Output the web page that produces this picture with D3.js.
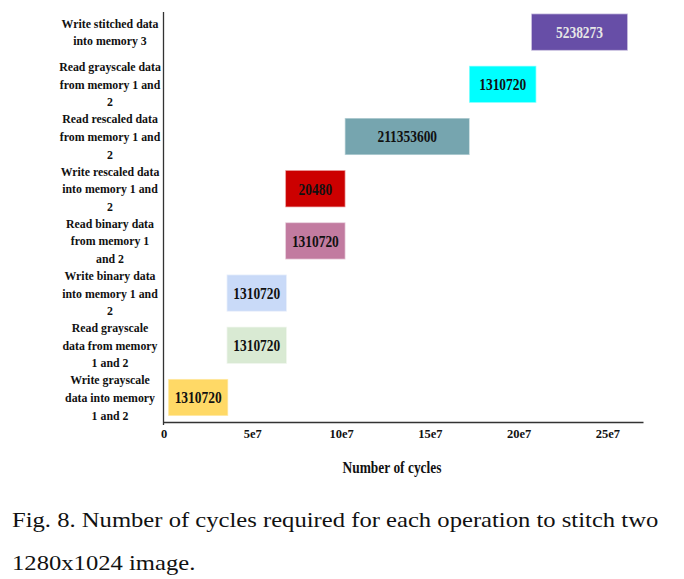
<!DOCTYPE html>
<html>
<head>
<meta charset="utf-8">
<script src="https://cdn.jsdelivr.net/npm/d3@7"></script>
<style>
  html, body { margin: 0; padding: 0; background: #fff; }
  svg { display: block; }
  text { font-family: "Liberation Serif", "Times New Roman", serif; }
</style>
</head>
<body>
<svg id="chart" width="684" height="579"></svg>
<script>
// ---- data (bottom row first) ----
const operations = [
  "Write grayscale|data into memory|1 and 2",
  "Read grayscale|data from memory|1 and 2",
  "Write binary data|into memory 1 and|2",
  "Read binary data|from memory 1|and 2",
  "Write rescaled data|into memory 1 and|2",
  "Read rescaled data|from memory 1 and|2",
  "Read grayscale data|from memory 1 and|2",
  "Write stitched data|into memory 3"
];
const startCycles = [0.3e7, 3.6e7, 3.6e7, 6.9e7, 6.9e7, 10.25e7, 17.25e7, 20.75e7];
const endCycles   = [3.6e7, 6.9e7, 6.9e7, 10.2e7, 10.2e7, 17.2e7, 20.95e7, 26.1e7];
const cycleLabels = ["1310720", "1310720", "1310720", "1310720", "20480", "211353600", "1310720", "5238273"];
const barColors   = ["#ffd966", "#d9ead3", "#c9daf8", "#c27ba0", "#cc0000", "#76a5af", "#00ffff", "#674ea7"];
const labelColors = ["#111", "#111", "#111", "#111", "#111", "#111", "#111", "#e6e6e6"];
const xTicks = [0, 5e7, 10e7, 15e7, 20e7, 25e7];
const xTickLabels = ["0", "5e7", "10e7", "15e7", "20e7", "25e7"];
const xTitle = "Number of cycles";
const captionLines = ["Fig. 8. Number of cycles required for each operation to stitch two", "1280x1024 image."];

const rows = operations.map((op, i) => ({
  op, start: startCycles[i], end: endCycles[i], label: cycleLabels[i],
  color: barColors[i], textColor: labelColors[i]
}));

const svg = d3.select("#chart");

const x = d3.scaleLinear().domain([0, 27e7]).range([163.5, 643]);
const y = d3.scaleBand().domain(operations).range([422, 7.6]).paddingInner(0.32).paddingOuter(0.13);

// bars
svg.append("g").selectAll("rect").data(rows).join("rect")
  .attr("x", d => x(d.start))
  .attr("y", d => y(d.op))
  .attr("width", d => x(d.end) - x(d.start))
  .attr("height", y.bandwidth())
  .attr("fill", d => d.color)
  .attr("stroke", d => d.color)
  .attr("stroke-opacity", 0.5)
  .attr("stroke-width", 1.5);

// bar value labels
svg.append("g").selectAll("text").data(rows).join("text")
  .attr("transform", d => `translate(${(x(d.start) + x(d.end)) / 2},${y(d.op) + y.bandwidth() / 2}) scale(0.79,1)`)
  .attr("text-anchor", "middle")
  .attr("dy", "0.35em")
  .attr("font-size", 17)
  .attr("font-weight", "bold")
  .attr("fill", d => d.textColor)
  .text(d => d.label);

// x axis
const xAxis = d3.axisBottom(x)
  .tickValues(xTicks)
  .tickFormat((d, i) => xTickLabels[i])
  .tickSize(0)
  .tickPadding(7);
const gx = svg.append("g").attr("transform", "translate(0,422)").call(xAxis);
gx.select(".domain").attr("stroke", "#333").attr("stroke-width", 1.3);
gx.selectAll(".tick text")
  .attr("font-size", 12.5)
  .attr("font-weight", "bold")
  .attr("fill", "#111");

// y axis line
svg.append("line")
  .attr("x1", x(0)).attr("x2", x(0))
  .attr("y1", 12).attr("y2", 425)
  .attr("stroke", "#333").attr("stroke-width", 1.3);

// y category labels
const lineH = 17.6;
const gl = svg.append("g");
rows.forEach(d => {
  const lines = d.op.split("|");
  const cy = y(d.op) + y.bandwidth() / 2;
  const t = gl.append("text")
    .attr("transform", `translate(110,${cy}) scale(0.91,1)`)
    .attr("text-anchor", "middle")
    .attr("font-size", 13)
    .attr("font-weight", "bold")
    .attr("fill", "#111");
  lines.forEach((ln, j) => {
    t.append("tspan")
      .attr("x", 0)
      .attr("y", (j - (lines.length - 1) / 2) * lineH)
      .attr("dy", "0.35em")
      .text(ln);
  });
});

// x title
svg.append("text")
  .attr("transform", "translate(392,472.5) scale(0.84,1)")
  .attr("text-anchor", "middle")
  .attr("font-size", 16)
  .attr("font-weight", "bold")
  .attr("fill", "#111")
  .text(xTitle);

// caption
captionLines.forEach((ln, i) => {
  svg.append("text")
    .attr("transform", `translate(12,${i === 0 ? 527 : 569.5}) scale(1.12,1)`)
    .attr("font-size", 22)
    .attr("fill", "#111")
    .text(ln);
});
</script>
</body>
</html>
